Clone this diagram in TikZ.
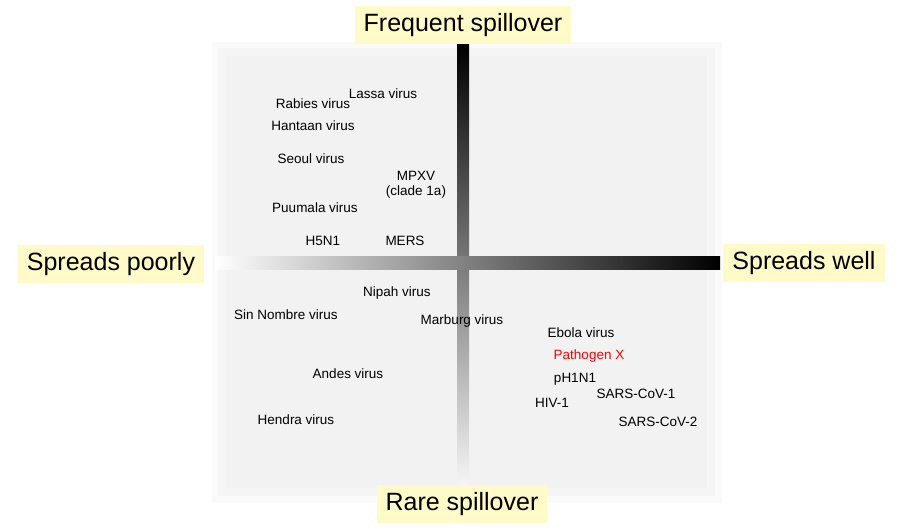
\documentclass[tikz,border=0pt]{standalone}
\usepackage{fontspec}
\setmainfont{Liberation Sans}
\usetikzlibrary{positioning}
\definecolor{labelYellow}{RGB}{255, 250, 200}
\definecolor{areaGray}{RGB}{242, 242, 242}
\tikzset{
    axislabel/.style={fill=labelYellow, font=\fontsize{25}{29}\selectfont, inner xsep=9pt, inner ysep=7pt},
    virus/.style={font=\fontsize{13.5}{15.5}\selectfont, inner sep=1pt}
}
\begin{document}
\begin{tikzpicture}[x=1pt, y=-1pt]
        \useasboundingbox (0,0) rectangle (900,529);
        % 背景
        \fill[areaGray!40!white] (212,42) rectangle (722,503);
        \fill[areaGray!75!white] (218,48) rectangle (715,496);
        \fill[areaGray] (226,56) rectangle (707,488);
        
        % 軸
        \shade[top color=black, bottom color=white] (457,45) rectangle (469,502);
        \shade[left color=white, right color=black] (215,257) rectangle (720,270);
        
        % 軸ラベル
        \node[axislabel] (freq) at (463,25) {Frequent spillover};
        \node[axislabel] (rare) at (462,504) {Rare spillover};
        \node[axislabel] (poor) at (111,264) {Spreads poorly};
        \node[axislabel] (well) at (804,263) {Spreads well};
        
        % ウイルス
        \node[virus] (lassa) at (383,94) {Lassa virus};
        \node[virus] (rabies) at (313,104) {Rabies virus};
        \node[virus] (hantaan) at (313,126) {Hantaan virus};
        \node[virus] (seoul) at (311,159) {Seoul virus};
        \node[virus] (mpxv) at (416,176) {MPXV};
        \node[virus, below=3pt of mpxv] (clade) {(clade 1a)};
        \node[virus] (puumala) at (315,208) {Puumala virus};
        \node[virus] (h5n1) at (323,241) {H5N1};
        \node[virus] (mers) at (405,241) {MERS};
        \node[virus] (nipah) at (397,293) {Nipah virus};
        \node[virus] (sinnombre) at (286,315) {Sin Nombre virus};
        \node[virus] (marburg) at (462,321) {Marburg virus};
        \node[virus] (ebola) at (581,333) {Ebola virus};
        \node[virus, red] (pathx) at (589,356) {Pathogen X};
        \node[virus] (ph1n1) at (575,379) {pH1N1};
        \node[virus] (sars1) at (636,394) {SARS-CoV-1};
        \node[virus] (hiv) at (552,403) {HIV-1};
        \node[virus] (andes) at (348,374) {Andes virus};
        \node[virus] (hendra) at (296,420) {Hendra virus};
        \node[virus] (sars2) at (658,422) {SARS-CoV-2};
    \end{tikzpicture}
\end{document}
